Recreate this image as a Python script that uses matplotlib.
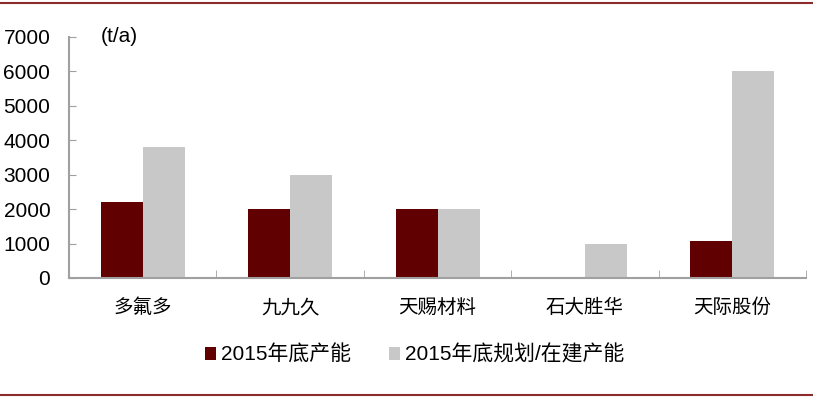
import matplotlib
matplotlib.use("Agg")
import matplotlib.pyplot as plt
import numpy as np
from matplotlib.lines import Line2D

categories = ["多氟多", "九九久", "天赐材料", "石大胜华", "天际股份"]
cap_2015 = [2200, 2000, 2000, 0, 1080]
cap_plan = [3800, 3000, 2000, 1000, 6000]
series_names = ["2015年底产能", "2015年底规划/在建产能"]
yticks = [0, 1000, 2000, 3000, 4000, 5000, 6000, 7000]

plt.rcParams['font.family'] = ['Liberation Sans', 'Noto Sans CJK SC', 'DejaVu Sans']

fig = plt.figure(figsize=(8.13, 3.99), dpi=100)
ax = fig.add_axes([0.0849, 0.3033, 0.9065, 0.604])

x = np.arange(len(categories))
w = 0.285
ax.bar(x - w/2, cap_2015, width=w, color="#600000", label=series_names[0])
ax.bar(x + w/2, cap_plan, width=w, color="#C8C8C8", label=series_names[1])

ax.set_xlim(-0.5, len(categories) - 0.5)
ax.set_ylim(0, 7000)
ax.set_yticks(yticks)
ax.set_yticklabels([str(v) for v in yticks], fontsize=15)
ax.set_xticks(x)
ax.set_xticklabels(categories, fontsize=14, family=['Noto Sans CJK SC'])
ax.tick_params(axis='x', length=0, pad=14)
ax.set_xticks(np.arange(-0.5, len(categories)), minor=True)
ax.tick_params(axis='x', which='minor', direction='in', length=6, color="#A0A0A0")
ax.tick_params(axis='y', direction='in', length=5, color="#A0A0A0", pad=13.5)
for s in ['top', 'right']:
    ax.spines[s].set_visible(False)
for s in ['left', 'bottom']:
    ax.spines[s].set_color("#A0A0A0")
    ax.spines[s].set_linewidth(1.5)

ax.text(0.043, 1.0, "(t/a)", transform=ax.transAxes, fontsize=15, va='center', ha='left')

leg = fig.legend(loc='center', bbox_to_anchor=(0.51, 0.111), ncol=2, frameon=False,
                 prop={'family': ['Liberation Sans', 'Noto Sans CJK SC'], 'size': 15},
                 handlelength=0.55, handleheight=0.55, handletextpad=0.25, columnspacing=1.8)

fig.add_artist(Line2D([0, 1], [1 - 3/399, 1 - 3/399], color="#8B2C2C", lw=1.5, transform=fig.transFigure))
fig.add_artist(Line2D([0, 1], [1 - 395/399, 1 - 395/399], color="#8B2C2C", lw=1.5, transform=fig.transFigure))

fig.savefig("out.png", dpi=100)
